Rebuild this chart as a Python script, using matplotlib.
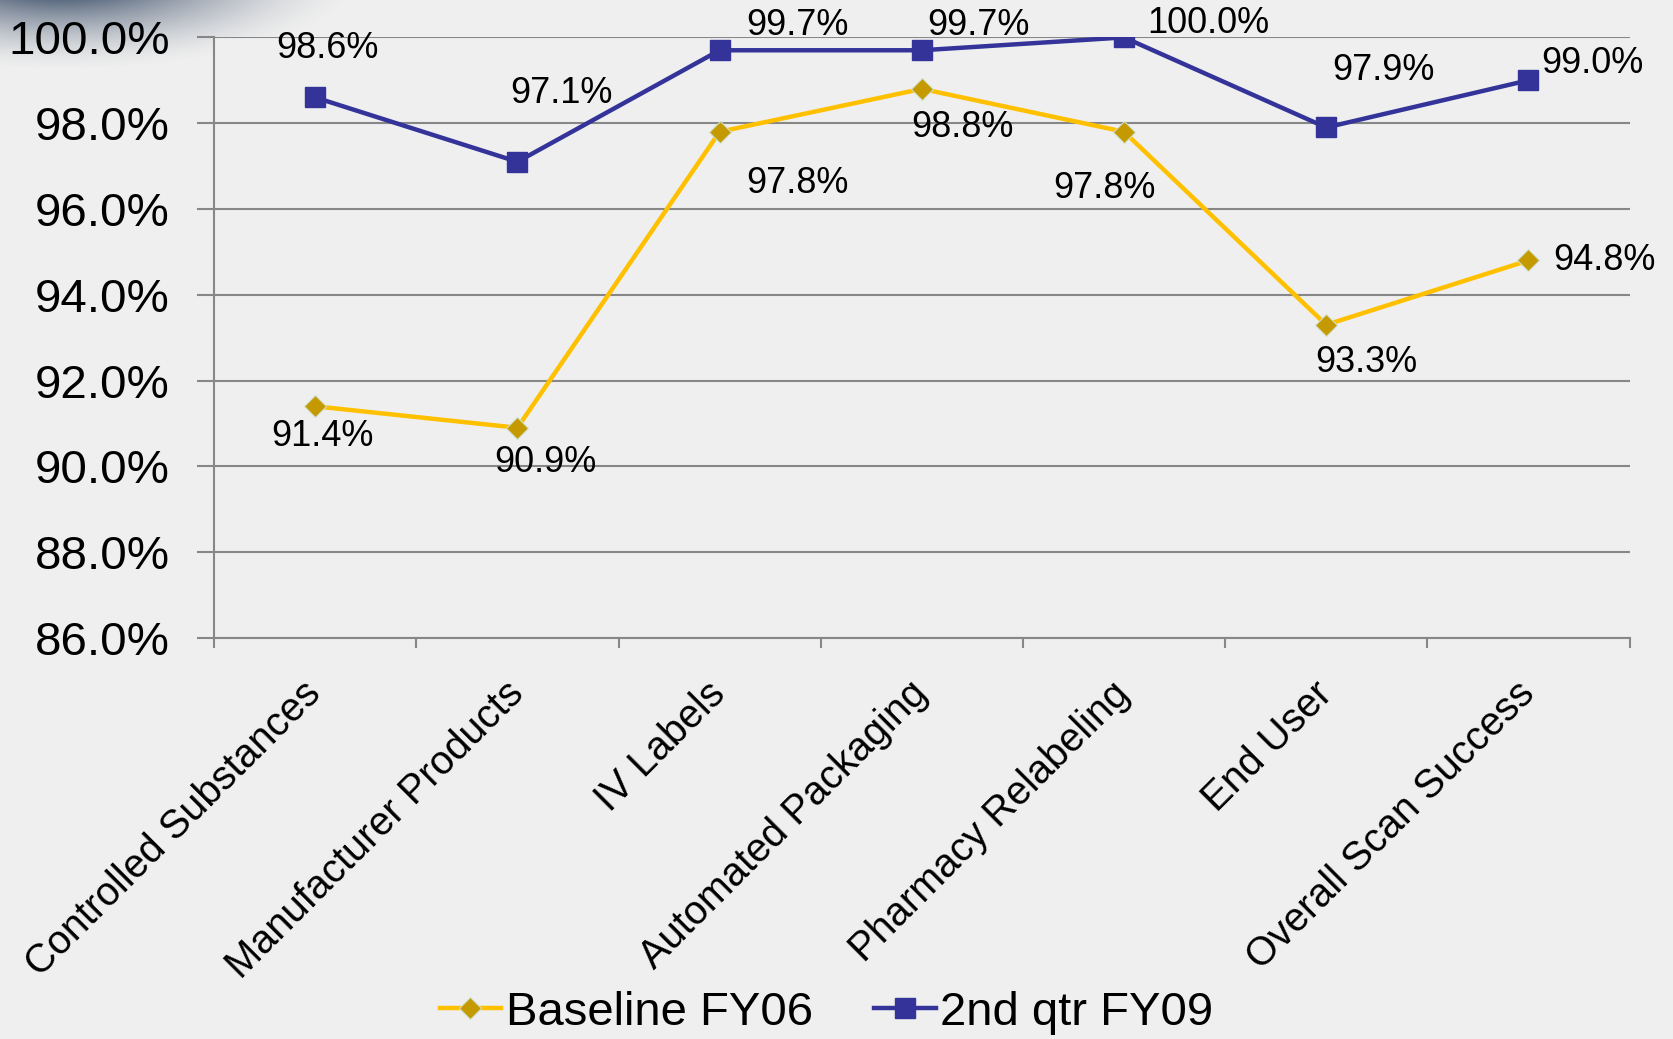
import numpy as np
import matplotlib.pyplot as plt

plt.rcParams['font.family'] = ['Liberation Sans', 'DejaVu Sans']

categories = ["Controlled Substances", "Manufacturer Products", "IV Labels",
              "Automated Packaging", "Pharmacy Relabeling", "End User",
              "Overall Scan Success"]
baseline_fy06 = [91.4, 90.9, 97.8, 98.8, 97.8, 93.3, 94.8]
qtr2_fy09 = [98.6, 97.1, 99.7, 99.7, 100.0, 97.9, 99.0]

# label offsets in points (dx, dy) relative to each marker
blue_offsets = [(9, 35), (32, 49), (56, 18), (41, 18), (61, 10), (41, 41), (46, 12)]
gold_offsets = [(5, -22), (20, -25), (56, -37), (29, -28), (-14, -41), (29, -27), (55, 0)]

bg = "#efefef"
blue = "#333399"
gold_line = "#ffc000"
gold_marker = "#c49a00"
grid_c = "#878787"

fig = plt.figure(figsize=(16.73, 10.39), dpi=100, facecolor=bg)
ax = fig.add_axes([0.128, 0.386, 0.846, 0.578])
ax.set_facecolor(bg)

# soft shadow blob in the top-left corner
blob_ax = fig.add_axes([0, 0.85, 0.3, 0.15], zorder=-1)
yy, xx = np.mgrid[0:1:150j, 0:1:500j]
d = np.sqrt(((xx - 0.12) / 0.55) ** 2 + ((yy - 1.15) / 0.55) ** 2)
alpha = np.clip(1.1 - d, 0, 1) ** 1.6
rgba = np.zeros(yy.shape + (4,))
rgba[..., 0], rgba[..., 1], rgba[..., 2] = 0.17, 0.25, 0.36
rgba[..., 3] = alpha
blob_ax.imshow(rgba, aspect="auto", origin="lower", extent=[0, 1, 0, 1])
blob_ax.axis("off")

x = np.arange(len(categories))
ax.plot(x, baseline_fy06, color=gold_line, lw=3.2, marker="D", ms=11,
        mfc=gold_marker, mec="#cfe0c8", mew=0.8, label="Baseline FY06", zorder=3)
ax.plot(x, qtr2_fy09, color=blue, lw=3.2, marker="s", ms=14,
        mfc=blue, mec=blue, label="2nd qtr FY09", zorder=4)

for xi, v, off in zip(x, qtr2_fy09, blue_offsets):
    ax.annotate(f"{v:.1f}%", (xi, v), xytext=off, textcoords="offset points",
                ha="center", va="center", fontsize=26, color="black")
for xi, v, off in zip(x, baseline_fy06, gold_offsets):
    ax.annotate(f"{v:.1f}%", (xi, v), xytext=off, textcoords="offset points",
                ha="center", va="center", fontsize=26, color="black")

ax.set_xlim(-0.5, len(categories) - 0.5)
ax.set_ylim(86, 100)
ax.set_yticks(np.arange(86, 100.1, 2))
ax.set_yticklabels([f"{t:.1f}%" for t in np.arange(86, 100.1, 2)], fontsize=34.2)
ax.yaxis.grid(True, color=grid_c, lw=1.5)
ax.set_axisbelow(True)
ax.tick_params(axis="y", length=12, width=1.5, color=grid_c, pad=20)

ax.set_xticks(x)
ax.set_xticklabels(categories, rotation=45, ha="right", va="center",
                   rotation_mode="anchor", fontsize=28.6)
ax.set_xticks(np.arange(-0.5, len(categories)), minor=True)
ax.tick_params(axis="x", which="major", length=0, pad=36)
ax.tick_params(axis="x", which="minor", length=7, width=1.5, color=grid_c)

for s in ["top", "right"]:
    ax.spines[s].set_visible(False)
for s in ["left", "bottom"]:
    ax.spines[s].set_color(grid_c)
    ax.spines[s].set_linewidth(1.5)

fig.legend(loc="center", bbox_to_anchor=(0.494, 0.025), ncol=2, frameon=False,
           fontsize=34, handlelength=1.3, handletextpad=0.1, columnspacing=1.3)

fig.savefig("out.png", dpi=100, facecolor=bg)
